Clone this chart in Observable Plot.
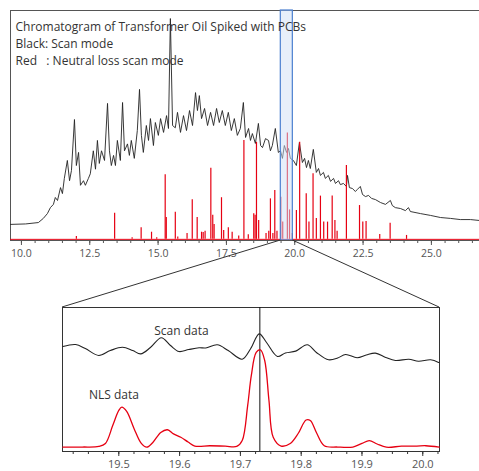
<!DOCTYPE html>
<html><head><meta charset="utf-8">
<script src="https://cdn.jsdelivr.net/npm/d3@7"></script>
<script src="https://cdn.jsdelivr.net/npm/@observablehq/plot@0.6"></script>
<style>
html,body{margin:0;padding:0;background:#fff;}
#chart{position:relative;width:479px;height:471px;overflow:hidden;font-family:"Open Sans",sans-serif;}
#chart svg{position:absolute;left:0;}
</style></head><body><div id="chart"></div>
<script>
// ---- Full chromatogram: scan mode (black) ----
const scanTime = [9.60,10.15,10.62,10.80,10.95,11.06,11.17,11.24,11.32,11.43,
11.50,11.57,11.68,11.76,11.83,11.94,12.01,12.09,12.16,12.27,
12.34,12.45,12.52,12.63,12.71,12.78,12.85,12.93,13.04,13.15,
13.22,13.29,13.37,13.44,13.51,13.62,13.70,13.77,13.88,13.95,
14.02,14.13,14.24,14.32,14.39,14.46,14.57,14.65,14.72,14.83,
14.90,15.01,15.09,15.20,15.31,15.38,15.45,15.53,15.63,15.71,
15.82,15.93,16.04,16.15,16.26,16.37,16.44,16.51,16.59,16.70,
16.81,16.92,17.03,17.14,17.24,17.35,17.46,17.57,17.68,17.79,
17.90,18.01,18.12,18.20,18.31,18.38,18.45,18.56,18.67,18.75,
18.82,18.93,19.04,19.11,19.18,19.29,19.40,19.48,19.55,19.62,
19.70,19.77,19.84,19.95,20.06,20.17,20.28,20.36,20.43,20.50,
20.57,20.68,20.79,20.87,20.94,21.05,21.12,21.23,21.31,21.42,
21.49,21.60,21.67,21.78,21.89,21.93,22.00,22.11,22.22,22.29,
22.40,22.48,22.59,22.70,22.81,22.95,23.14,23.32,23.50,23.57,
23.68,23.87,24.05,24.16,24.23,24.60,24.97,25.33,25.70,26.06,
26.43,26.76];
const scanAbund = [7.0,7.2,7.8,9.6,11.7,14.3,15.7,18.7,17.4,23,
20.4,27,34.8,26,30.4,52.6,32.6,38.3,24,26,
24,27,29,39,31,43.5,33.5,39,34.8,59.6,
39,32.6,37,32.6,43.5,34.8,60,39,42,37,
43.5,35.7,47.8,65.7,45.7,38.3,50,43.5,53,41.3,
51.3,45.7,53,47,54.3,48.7,96.5,50,49,55.7,
47,54.3,47.8,56.5,50,64.3,56.5,63,53,57.4,
50,55.7,50,57.4,51.3,56.5,50,55.7,47.8,53,
45.7,48.7,60,44.8,48.7,43.5,46.5,42.2,50.9,41.3,
40.4,44.3,43.5,39,41.3,48.7,38.3,39,35.7,41.3,
38.3,40,35.7,34.8,32.6,42.6,33.9,35.7,31.7,34.8,
31.3,39.6,29.6,31.3,28.3,29.6,27,28.3,25.7,27,
24.8,26,24.3,24.8,23.5,28.3,23,22.6,21.3,22.2,
23.5,20,19.1,19.6,18.3,17.8,16.5,15.7,17.4,15.2,
14.3,13.9,13,14.3,12.6,11.7,10.9,10,9.6,9.1,
9.1,8.7];

// ---- Full chromatogram: neutral loss scan (red) peaks ----
const nlsPeakTime = [12.01,13.41,14.05,14.38,14.76,14.95,15.26,15.30,15.63,15.72,
16.06,16.25,16.43,16.59,16.65,16.72,16.93,17.00,17.05,17.32,
17.40,17.57,17.71,17.95,18.14,18.30,18.50,18.55,18.60,18.68,
18.95,19.05,19.11,19.20,19.27,19.35,19.49,19.56,19.73,19.81,
19.91,20.06,20.18,20.42,20.52,20.67,20.79,20.94,21.06,21.20,
21.37,21.47,21.55,21.89,22.37,22.49,22.61,23.11,23.49,24.09];
const nlsPeakHeight = [1.7,11.9,1.2,5.5,3.6,1.2,28.6,10,12.3,1.5,
3,17.7,10,3.6,3.5,4,31.4,11,7,18.6,
4.3,5.5,3.6,2,43.5,2.5,11.6,11,42.7,8.7,
3,4,18.1,3,21.7,4,18.8,8,46.7,13.3,
3,13,42.7,20.3,8,29,9.6,19.3,8,8,
19.3,8.7,4,32.6,15.2,8,8.3,2.6,7.5,2.2];
const nlsBaseTime = [9.60, 26.76];
const nlsBaseLevel = [0.5, 0.5];

// highlighted window
const windowStart = [19.49];
const windowEnd = [19.93];

// ---- Zoomed window ----
const zoomScanTime = [19.408,19.429,19.445,19.467,19.486,19.506,19.523,19.536,19.552,19.570,
19.585,19.599,19.615,19.632,19.643,19.662,19.680,19.703,19.717,19.731,
19.743,19.761,19.774,19.791,19.810,19.825,19.845,19.860,19.873,19.892,
19.907,19.922,19.939,19.955,19.977,19.993,20.013,20.026];
const zoomScanAbund = [72.9,74.3,71.5,66.7,70.1,72.4,70.1,67.8,72.2,79,
73.6,69.4,70.8,72,71.9,74.1,70.1,64.1,71.5,81.7,
75.7,66,68.4,69.7,74.1,68.8,63.7,64.9,67.4,65.1,
67,68.3,65.3,63.2,64.1,62.7,63.7,61.8];
const zoomNlsTime = [19.408,19.440,19.467,19.478,19.490,19.500,19.505,19.513,19.525,19.537,
19.546,19.556,19.569,19.580,19.590,19.602,19.614,19.625,19.650,19.675,
19.694,19.703,19.712,19.718,19.726,19.733,19.740,19.747,19.754,19.767,
19.782,19.795,19.808,19.815,19.825,19.838,19.860,19.885,19.900,19.912,
19.925,19.940,19.965,19.990,20.005,20.027];
const zoomNlsAbund = [3.0,3.1,3.5,5.6,18,28.5,30.8,27.8,16,5.6,
3,6.3,13.2,15.1,12.2,9.9,6.6,3.8,4,3.7,
3.5,7.6,32,52.8,68.8,70.6,63.2,35.4,9.9,3.8,
5.6,12.5,21.9,21.5,13.2,4,3.1,3.1,5.6,7.6,
5.2,3,3.7,3.8,4,3];
const markerTime = [19.732];

const topTitle = ["Chromatogram of Transformer Oil Spiked with PCBs", "Black: Scan mode", "Red\u00a0\u00a0 : Neutral loss scan mode"];
const topTicks = [10.0, 12.5, 15.0, 17.5, 20.0, 22.5, 25.0];
const zoomTicks = [19.5, 19.6, 19.7, 19.8, 19.9, 20.0];
const zoomLabelText = ["Scan data", "NLS data"];
const zoomLabelTime = [19.603, 19.492];
const zoomLabelAbund = [83.3, 38.9];

// ---- build tables ----
const scan = scanTime.map((t, i) => ({t, v: scanAbund[i]}));
const peaks = nlsPeakTime.map((t, i) => ({t, v: nlsPeakHeight[i]}));
const base = nlsBaseTime.map((t, i) => ({t, v: nlsBaseLevel[i]}));
const win = windowStart.map((s, i) => ({s, e: windowEnd[i]}));
const zScan = zoomScanTime.map((t, i) => ({t, v: zoomScanAbund[i]}));
const zNls = zoomNlsTime.map((t, i) => ({t, v: zoomNlsAbund[i]}));
const zLabels = zoomLabelText.map((s, i) => ({s, t: zoomLabelTime[i], v: zoomLabelAbund[i]}));
const topMinor = d3.range(10, 27, 0.5);
const zoomMinor = d3.range(19.425, 20.03, 0.025);

const BLACK = "#222", RED = "#e60012", GRID = "#555";
const topDomain = [9.6, 26.76];
const zoomDomain = [19.4074, 20.0275];

const topPlot = Plot.plot({
  width: 479, height: 270,
  marginLeft: 10, marginRight: 0, marginTop: 10, marginBottom: 30,
  x: {domain: topDomain, label: null},
  y: {domain: [0, 100], axis: null},
  style: {fontFamily: "'Open Sans', sans-serif", fontSize: "10.5px", color: "#555", background: "transparent"},
  marks: [
    Plot.ruleX([topDomain[0]], {stroke: GRID}),
    Plot.ruleY([100], {stroke: GRID}),
    Plot.line(scan, {x: "t", y: "v", stroke: BLACK, strokeWidth: 0.9}),
    Plot.line(base, {x: "t", y: "v", stroke: RED, strokeWidth: 1}),
    Plot.ruleX(peaks, {x: "t", y1: 0.5, y2: "v", stroke: RED, strokeWidth: 1.2}),
    Plot.rect(win, {x1: "s", x2: "e", y1: 0, y2: 100, fill: "#cfe0f6", fillOpacity: 0.5, stroke: "#4a7fd0", strokeWidth: 1.2}),
    Plot.ruleY([0], {stroke: GRID}),
    Plot.axisX({ticks: topTicks, tickSize: 5, tickPadding: 4, tickFormat: d => d.toFixed(1), label: null, stroke: GRID, fill: "#555"}),
    Plot.axisX({ticks: topMinor, tickSize: 3, tickFormat: () => "", label: null, stroke: GRID}),
    Plot.text([topTitle.join("\n")], {frameAnchor: "top-left", dx: 5, dy: 9, lineHeight: 1.4, fontSize: 12, fill: "#333", textAnchor: "start"})
  ]
});
topPlot.style.top = "0px";

const botPlot = Plot.plot({
  width: 479, height: 201,
  marginLeft: 62, marginRight: 40, marginTop: 37, marginBottom: 20,
  x: {domain: zoomDomain, label: null},
  y: {domain: [0, 100], axis: null},
  style: {fontFamily: "'Open Sans', sans-serif", fontSize: "11px", color: "#555", background: "transparent"},
  marks: [
    Plot.frame({stroke: "#333"}),
    Plot.ruleX(markerTime, {stroke: "#111"}),
    Plot.line(zScan, {x: "t", y: "v", stroke: BLACK, strokeWidth: 1.1, curve: "catmull-rom"}),
    Plot.line(zNls, {x: "t", y: "v", stroke: RED, strokeWidth: 1.3, curve: "catmull-rom"}),
    Plot.text(zLabels, {x: "t", y: "v", text: "s", fontSize: 12, fill: "#333"}),
    Plot.axisX({ticks: zoomTicks, tickSize: 5, tickPadding: 4, tickFormat: d => d.toFixed(1), label: null, stroke: "#333", fill: "#555"}),
    Plot.axisX({ticks: zoomMinor, tickSize: 3, tickFormat: () => "", label: null, stroke: "#333"})
  ]
});
botPlot.style.top = "270px";

const chart = document.getElementById("chart");
chart.append(topPlot, botPlot);

// connector lines from the highlighted window to the zoom panel, positioned by both plots' scales
const xT = topPlot.scale("x"), yT = topPlot.scale("y"), xB = botPlot.scale("x"), yB = botPlot.scale("y");
const links = [[windowStart[0], zoomDomain[0]], [windowEnd[0], zoomDomain[1]]];
const ov = d3.create("svg").attr("width", 479).attr("height", 471)
  .style("position", "absolute").style("left", 0).style("top", 0);
ov.selectAll("line").data(links).join("line")
  .attr("x1", d => xT.apply(d[0])).attr("y1", yT.apply(0))
  .attr("x2", d => xB.apply(d[1])).attr("y2", 270 + yB.apply(100))
  .attr("stroke", "#333").attr("stroke-width", 1);
chart.append(ov.node());
</script></body></html>
